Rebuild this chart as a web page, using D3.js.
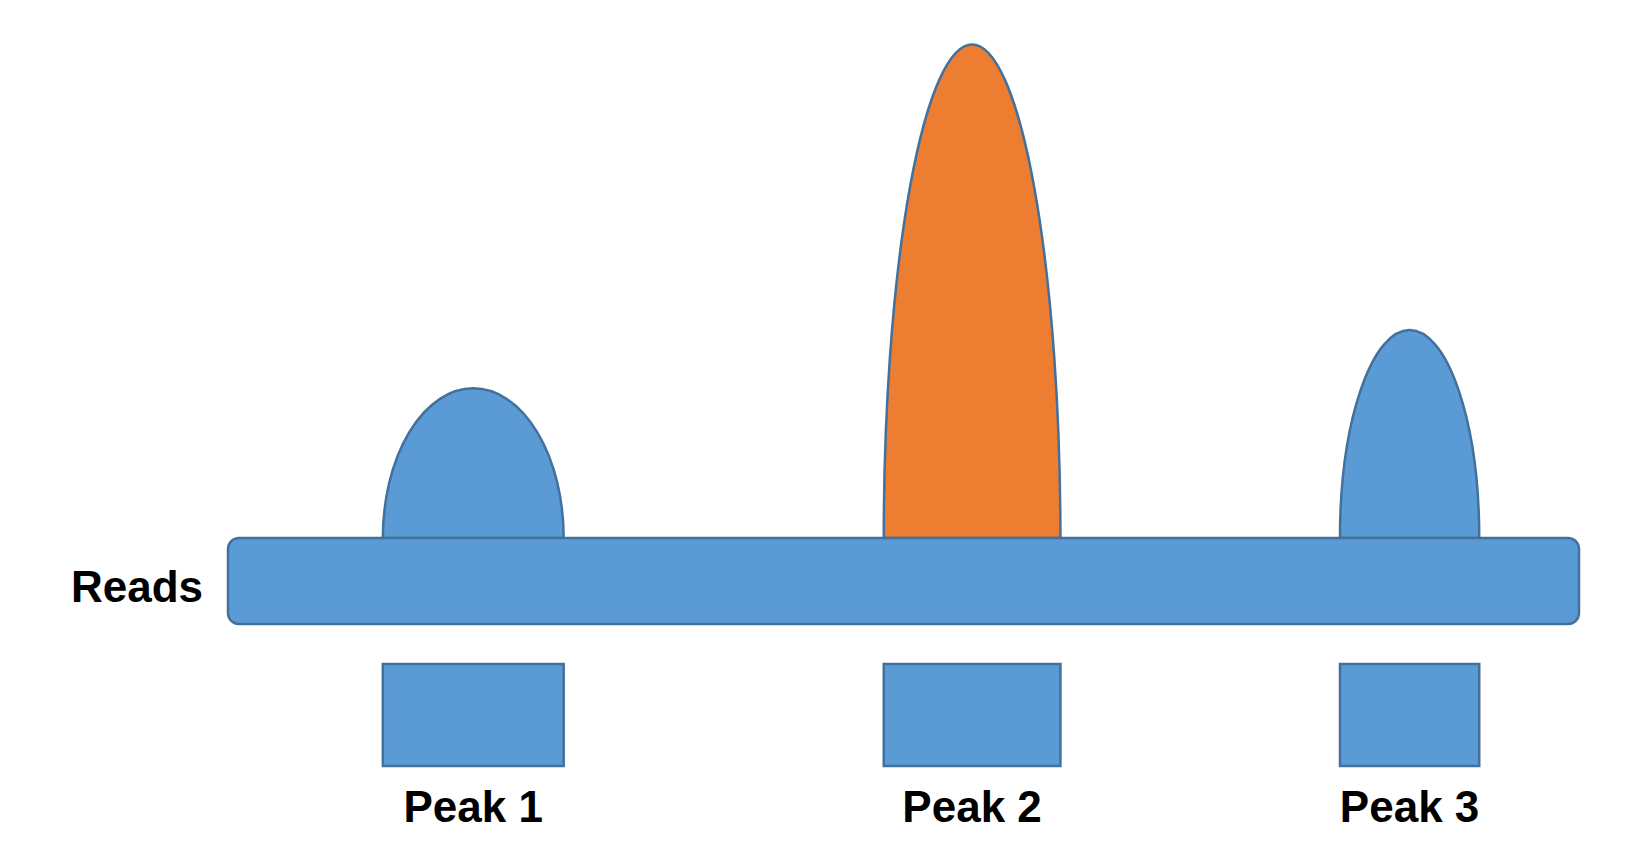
<!DOCTYPE html>
<html><head><meta charset="utf-8">
<script src="https://cdn.jsdelivr.net/npm/d3@7"></script>
<style>body{margin:0;background:#fff}</style></head>
<body><svg id="c" width="1628" height="866"></svg>
<script>
const peakNames = ["Peak 1","Peak 2","Peak 3"];
const peakStart = [149, 631, 1070];
const peakEnd = [323, 801, 1204];
const peakHeight = [144, 475, 200];
const peakColor = ["#5B9BD5","#ED7D31","#5B9BD5"];
const genomeLength = 1300;

const svg = d3.select("#c");
const x = d3.scaleLinear().domain([0, genomeLength]).range([228, 1579]);
const y = d3.scaleLinear().domain([0, 500]).range([538, 18]);
const stroke = "#41719C";
const font = "Liberation Sans, Arial, sans-serif";

peakNames.forEach((n,i)=>{
  const x0=x(peakStart[i]), x1=x(peakEnd[i]), yb=y(0), yt=y(peakHeight[i]);
  const rx=(x1-x0)/2, ry=yb-yt;
  svg.append("path")
    .attr("d",`M${x0},${yb} A${rx},${ry} 0 0 1 ${x1},${yb} Z`)
    .attr("fill",peakColor[i]).attr("stroke",stroke).attr("stroke-width",2.5);
  svg.append("rect").attr("x",x0).attr("y",664).attr("width",x1-x0).attr("height",102)
    .attr("fill","#5B9BD5").attr("stroke",stroke).attr("stroke-width",2.5);
  svg.append("text").attr("x",(x0+x1)/2).attr("y",822).attr("text-anchor","middle")
    .attr("font-family",font).attr("font-weight","bold")
    .attr("font-size",44).text(n);
});
svg.append("rect").attr("x",x(0)).attr("y",538).attr("width",x(genomeLength)-x(0)).attr("height",86)
  .attr("rx",11).attr("fill","#5B9BD5").attr("stroke",stroke).attr("stroke-width",2.5);
svg.append("text").attr("x",203).attr("y",602).attr("text-anchor","end")
  .attr("font-family",font).attr("font-weight","bold")
  .attr("font-size",44).text("Reads");
</script></body></html>
